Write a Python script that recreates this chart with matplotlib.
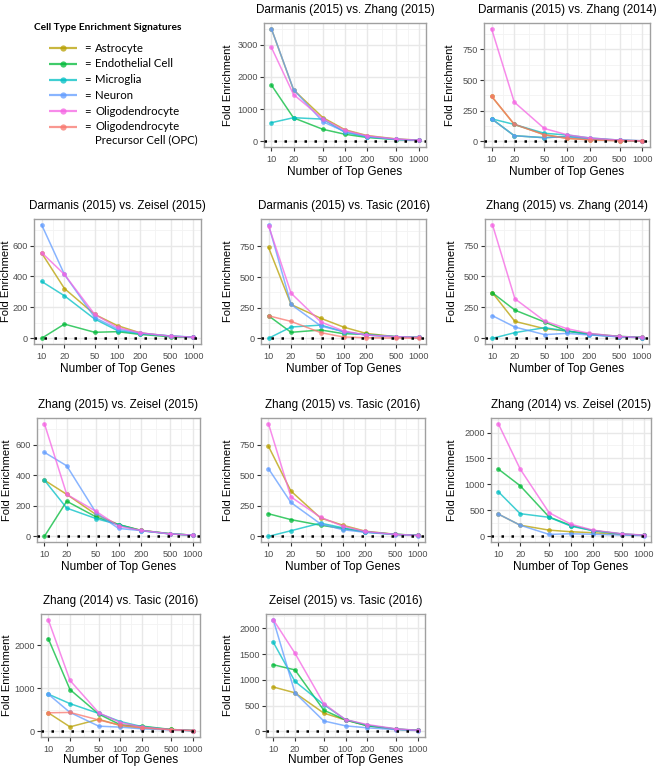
import numpy as np
import matplotlib
matplotlib.use('Agg')
import matplotlib.pyplot as plt

genes = [10, 20, 50, 100, 200, 500, 1000]
gene_labels = ['10', '20', '50', '100', '200', '500', '1000']
cell_types = ['Astrocyte', 'Endothelial Cell', 'Microglia', 'Neuron',
              'Oligodendrocyte', 'Oligodendrocyte\nPrecursor Cell (OPC)']
colors = ['#B79F00', '#00BA38', '#00BFC4', '#619CFF', '#F564E3', '#F8766D']

titles = ['Darmanis (2015) vs. Zhang (2015)', 'Darmanis (2015) vs. Zhang (2014)',
          'Darmanis (2015) vs. Zeisel (2015)', 'Darmanis (2015) vs. Tasic (2016)',
          'Zhang (2015) vs. Zhang (2014)', 'Zhang (2015) vs. Zeisel (2015)',
          'Zhang (2015) vs. Tasic (2016)', 'Zhang (2014) vs. Zeisel (2015)',
          'Zhang (2014) vs. Tasic (2016)', 'Zeisel (2015) vs. Tasic (2016)']

# values per panel: one list per cell type (None = not present in that comparison)
darmanis_zhang15 = [
    [3500, 1600, 740, 360, 180, 75, 38],
    [1750, 730, 375, 220, 120, 55, 30],
    [580, 735, 690, 280, 140, 60, 30],
    [3500, 1610, 610, 300, 150, 65, 33],
    [2920, 1455, 700, 340, 170, 70, 35],
    None]
darmanis_zhang14 = [
    [368, 138, 55, 25, 14, 6, 3],
    [185, 46, 30, 40, 22, 8, 4],
    [184, 138, 66, 52, 28, 10, 5],
    [184, 46, 30, 38, 22, 8, 4],
    [919, 320, 105, 54, 27, 10, 5],
    [368, 140, 54, 24, 12, 5, 2]]
darmanis_zeisel = [
    [552, 322, 155, 82, 35, 13, 6],
    [0, 92, 39, 43, 25, 10, 6],
    [368, 275, 125, 50, 30, 15, 7],
    [735, 413, 135, 60, 34, 15, 8],
    [555, 413, 155, 70, 35, 14, 7],
    None]
darmanis_tasic = [
    [742, 276, 163, 92, 40, 13, 7],
    [184, 49, 68, 38, 32, 13, 7],
    [0, 92, 108, 54, 27, 13, 7],
    [927, 276, 100, 54, 27, 13, 7],
    [920, 368, 133, 60, 27, 13, 7],
    [184, 138, 46, 11, 5, 2, 1]]
zhang15_zhang14 = [
    [368, 137, 78, 59, 32, 14, 6],
    [368, 228, 132, 59, 37, 16, 8],
    [0, 46, 86, 59, 30, 13, 6],
    [183, 91, 30, 40, 27, 12, 5],
    [919, 320, 140, 78, 40, 15, 7],
    None]
zhang15_zeisel = [
    [368, 275, 142, 77, 40, 17, 8],
    [0, 230, 127, 77, 39, 17, 8],
    [368, 185, 116, 77, 37, 16, 8],
    [550, 462, 153, 52, 38, 16, 8],
    [738, 275, 163, 67, 39, 16, 8],
    None]
zhang15_tasic = [
    [737, 371, 150, 91, 42, 17, 8],
    [185, 137, 91, 64, 36, 17, 9],
    [0, 46, 108, 70, 35, 16, 8],
    [554, 277, 102, 54, 33, 15, 7],
    [922, 323, 156, 83, 40, 16, 8],
    None]
zhang14_zeisel = [
    [430, 215, 120, 89, 70, 35, 18],
    [1297, 975, 373, 209, 112, 45, 22],
    [861, 437, 367, 196, 110, 45, 22],
    [430, 215, 38, 50, 40, 25, 15],
    [2171, 1297, 456, 234, 120, 50, 25],
    None]
zhang14_tasic = [
    [433, 106, 281, 137, 75, 45, 20],
    [2160, 973, 403, 152, 122, 45, 20],
    [867, 646, 418, 228, 110, 40, 18],
    [867, 441, 122, 99, 60, 35, 15],
    [2600, 1186, 433, 205, 99, 40, 20],
    [433, 441, 266, 144, 85, 40, 18]]
zeisel_tasic = [
    [863, 749, 356, 222, 110, 40, 20],
    [1295, 1194, 413, 222, 110, 45, 22],
    [1733, 971, 521, 229, 120, 45, 20],
    [2171, 749, 203, 108, 70, 35, 17],
    [2171, 1517, 540, 229, 133, 50, 22],
    None]

panel_data = [darmanis_zhang15, darmanis_zhang14, darmanis_zeisel, darmanis_tasic,
              zhang15_zhang14, zhang15_zeisel, zhang15_tasic, zhang14_zeisel,
              zhang14_tasic, zeisel_tasic]
y_ticks = [[0, 1000, 2000, 3000], [0, 250, 500, 750], [0, 200, 400, 600],
           [0, 250, 500, 750], [0, 250, 500, 750], [0, 200, 400, 600],
           [0, 250, 500, 750], [0, 500, 1000, 1500, 2000], [0, 1000, 2000],
           [0, 500, 1000, 1500, 2000]]

W, H = 660, 770
fig = plt.figure(figsize=(W / 100, H / 100), dpi=100)
plt.rcParams['font.family'] = ['Liberation Sans', 'DejaVu Sans']

# panel rectangles in pixels: left, top, right, bottom, and y-label centre x
rects = [(264, 23, 426, 147, 228), (484, 23, 650, 147, 450),
         (34, 219, 201, 344, 6), (261, 219, 426, 344, 228), (485, 219, 649, 344, 452),
         (37, 418, 200, 542, 7), (261, 418, 425, 542, 228), (491, 418, 651, 542, 452),
         (41, 614, 200, 737, 7), (266, 614, 425, 737, 228)]

lx = np.log10(genes)
xlo, xhi = lx[0] - 0.05 * (lx[-1] - lx[0]), lx[-1] + 0.05 * (lx[-1] - lx[0])
xminor = [(lx[i] + lx[i + 1]) / 2 for i in range(len(lx) - 1)]

for k, (l, t, r, b, ylx) in enumerate(rects):
    ax = fig.add_axes([l / W, 1 - b / H, (r - l) / W, (b - t) / H])
    series = panel_data[k]
    ymax = max(max(s) for s in series if s is not None)
    pad = 0.05 * ymax
    ax.set_xlim(xlo, xhi)
    ax.set_ylim(-pad, ymax + pad)
    yt = y_ticks[k]
    step = yt[1] - yt[0]
    ymin_grid = [v + step / 2 for v in [yt[0] - step] + yt]
    for v in xminor:
        ax.axvline(v, color='#F3F3F3', lw=0.6, zorder=0)
    for v in ymin_grid:
        ax.axhline(v, color='#F3F3F3', lw=0.6, zorder=0)
    for v in lx:
        ax.axvline(v, color='#E8E8E8', lw=1.0, zorder=0)
    for v in yt:
        ax.axhline(v, color='#E8E8E8', lw=1.0, zorder=0)
    for s, c in zip(series, colors):
        if s is None:
            continue
        ax.plot(lx, s, '-o', color=c, lw=1.1, ms=3.4, alpha=0.75, mew=0, zorder=2)
    ax.axhline(0, color='black', lw=1.8, ls=(0, (1, 3)), zorder=3)
    ax.set_xticks(lx)
    ax.set_xticklabels(gene_labels)
    ax.set_yticks(yt)
    ax.tick_params(labelsize=6.6, labelcolor='#4D4D4D', color='#333333',
                   length=3, width=0.8, pad=1.5)
    ax.tick_params(axis='x', pad=2.5)
    for sp in ax.spines.values():
        sp.set_color('#A0A0A0')
        sp.set_linewidth(1.0)
    ax.set_title(titles[k], fontsize=8.4, pad=7)
    ax.set_xlabel('Number of Top Genes', fontsize=8.5, labelpad=2 if k < 8 else 0.5)
    ax.set_ylabel('Fold Enrichment', fontsize=8.0)
    ax.yaxis.set_label_coords((ylx + 5 - l) / (r - l), 0.5)

# legend
lg = fig.add_axes([0, 1 - 160 / H, 220 / W, 160 / H])
lg.set_xlim(0, 220)
lg.set_ylim(160, 0)
lg.axis('off')
lg.text(108, 27, 'Cell Type Enrichment Signatures', fontsize=7.3, fontweight='bold',
        family=['Lato', 'DejaVu Sans'], ha='center', va='center')
for i, (name, c) in enumerate(zip(cell_types, colors)):
    y = 48 + i * 15.8
    lg.plot([49, 77], [y, y], color=c, lw=1.6, alpha=0.75, solid_capstyle='butt')
    lg.plot([63], [y], 'o', color=c, ms=4.5, alpha=0.75, mew=0)
    lg.text(84, y, '=', fontsize=8.2, family=['Lato', 'DejaVu Sans'], va='center')
    lg.text(95, y - 5.5, name, fontsize=8.2, family=['Lato', 'DejaVu Sans'],
            va='top', linespacing=1.15)

fig.savefig('out.png', dpi=100)
